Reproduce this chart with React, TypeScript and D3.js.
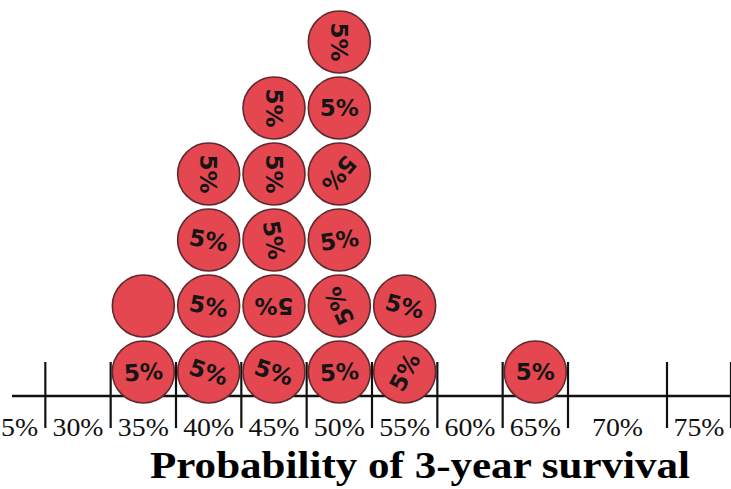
import React from "react";
import * as d3 from "d3";

// ---- data ----
const binValues = [35, 40, 45, 50, 55, 65]; // bins (percent) holding chips
const binCounts = [2, 4, 5, 6, 2, 1]; // number of 5% chips in each bin
const tickLabels = ["25%", "30%", "35%", "40%", "45%", "50%", "55%", "60%", "65%", "70%", "75%"];
const labelValues = [25, 30, 35, 40, 45, 50, 55, 60, 65, 70, 75];
const tickValues = [27.5, 32.5, 37.5, 42.5, 47.5, 52.5, 57.5, 62.5, 67.5, 72.5, 77.5];
// text written on each chip, column by column, bottom up
const chipTexts = [
  "5%", "",
  "5%", "5%", "5%", "5%",
  "5%", "5%", "5%", "5%", "5%",
  "5%", "5%", "5%", "5%", "5%", "5%",
  "5%", "5%",
  "5%",
];
const axisTitle = "Probability of 3-year survival";

// hand-written orientation of the text on each chip (presentation only)
const chipTextAngles = [
  -4, 0,
  18, 10, 10, 90,
  18, 180, 80, 90, 90,
  -4, -115, -8, 130, 0, 90,
  -62, 14,
  0,
];

const W = 731;
const H = 489;

export default function App() {
  // piecewise scale following the (slightly uneven) scanned axis
  const x = d3.scaleLinear().domain([22.5, 67.5, 72.5, 77.5]).range([-20, 568, 667, 731]);
  const y = d3.scaleLinear().domain([0, 6]).range([405, 9]);
  const r = 31;
  const axisY = 396;

  const chips: { bin: number; k: number; text: string; angle: number }[] = [];
  let idx = 0;
  binValues.forEach((b, i) => {
    d3.range(binCounts[i]).forEach((k) => {
      chips.push({ bin: b, k, text: chipTexts[idx], angle: chipTextAngles[idx] });
      idx++;
    });
  });

  return (
    <svg
      width={W}
      height={H}
      style={{ position: "absolute", left: 0, top: 0, background: "#fff" }}
    >
      <rect x={0} y={0} width={W} height={H} fill="#fff" />
      {/* axis line */}
      <line x1={12} x2={W} y1={axisY} y2={axisY} stroke="#111" strokeWidth={2.5} />
      {tickValues.map((t) => (
        <line key={t} x1={x(t)} x2={x(t)} y1={362} y2={428} stroke="#111" strokeWidth={2.2} />
      ))}
      {/* tick labels */}
      {labelValues.map((v, i) => (
        <text
          key={v}
          x={x(v)}
          y={436}
          textAnchor="middle"
          fontFamily="'Liberation Serif', 'Times New Roman', serif"
          fontSize={26}
          fill="#111"
          textLength={51}
          lengthAdjust="spacingAndGlyphs"
        >
          {tickLabels[i]}
        </text>
      ))}
      {/* chips */}
      {chips.map((c, i) => {
        const cx = x(c.bin);
        const cy = y(c.k + 0.5);
        return (
          <g key={i} transform={`translate(${cx},${cy})`}>
            <circle r={r} fill="#e4474f" stroke="#5e2a2e" strokeWidth={1.6} />
            {c.text && (
              <text
                transform={`rotate(${c.angle})`}
                textAnchor="middle"
                dy="0.36em"
                fontFamily="'DejaVu Sans', sans-serif"
                fontWeight="bold"
                fontSize={23}
                fill="#151515"
              >
                {c.text}
              </text>
            )}
          </g>
        );
      })}
      {/* axis title */}
      <text
        x={420}
        y={478}
        textAnchor="middle"
        fontFamily="'Liberation Serif', 'Times New Roman', serif"
        fontWeight="bold"
        fontSize={38}
        fill="#000"
        textLength={540}
        lengthAdjust="spacingAndGlyphs"
      >
        {axisTitle}
      </text>
    </svg>
  );
}
